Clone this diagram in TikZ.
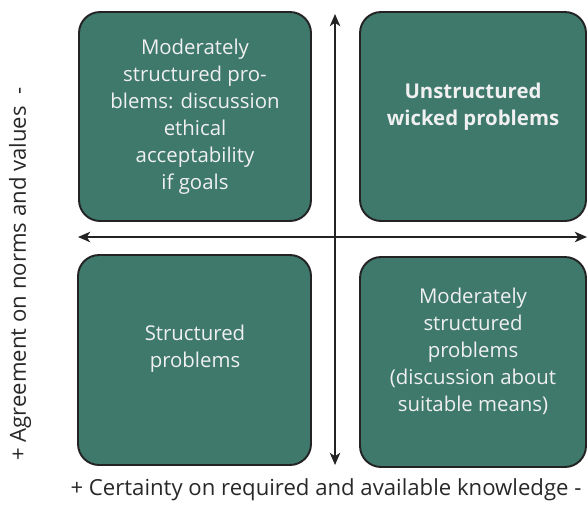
\documentclass[tikz,border=0pt]{standalone}
\usepackage{fontspec}
\setmainfont{Open Sans}
\usepackage{tikz}
\usetikzlibrary{arrows.meta}

\definecolor{boxfill}{RGB}{62,121,108}
\definecolor{boxline}{RGB}{35,35,35}
\definecolor{labelgray}{RGB}{40,40,40}
\newcommand{\quadfont}{\fontsize{11.6pt}{15.4pt}\selectfont}
\newcommand{\axisfont}{\fontsize{12.6pt}{15.4pt}\selectfont}

\begin{document}
\begin{tikzpicture}[x=0.02cm, y=-0.02cm,
    quad/.style={rectangle, rounded corners=0.42cm, draw=boxline, fill=boxfill, line width=1.1pt, inner sep=0pt},
    quadtext/.style={text=white!94!black, align=center, font=\quadfont},
    axislabel/.style={text=labelgray, font=\axisfont, inner sep=0pt},
    axis/.style={{Stealth[length=7pt,width=6pt,inset=2pt]}-{Stealth[length=7pt,width=6pt,inset=2pt]}, line width=0.85pt, draw=boxline}]

    \useasboundingbox (0,0) rectangle (587,504);

    \node[quad, minimum width=4.64cm, minimum height=4.18cm] (tl) at (195, 116.5) {};
    \node[quad, minimum width=4.52cm, minimum height=4.18cm] (tr) at (473, 116.5) {};
    \node[quad, minimum width=4.66cm, minimum height=4.20cm] (bl) at (194.5, 360) {};
    \node[quad, minimum width=4.52cm, minimum height=4.20cm] (br) at (473, 362) {};

    \node[quadtext] (tltext) at (195, 117) {Moderately\\structured pro-\\blems: discussion\\ethical\\acceptability\\if goals};
    \node[quadtext, font=\quadfont\bfseries] (trtext) at (473, 107) {Unstructured\\wicked problems};
    \node[quadtext] (bltext) at (195, 349) {Structured\\problems};
    \node[quadtext] (brtext) at (473, 351) {Moderately\\structured\\problems\\(discussion about\\suitable means)};

    \coordinate (vtop) at (335, 14);
    \coordinate (vbot) at (335, 465);
    \coordinate (hleft) at (78, 237);
    \coordinate (hright) at (587, 237);

    \draw (vtop) edge[axis] (vbot);
    \draw (hleft) edge[axis] (hright);

    \node[axislabel] (knowledge) at (326, 490) {+ Certainty on required and available knowledge -};
    \node[axislabel, rotate=90] (norms) at (20, 274) {+ Agreement on norms and values\ \ -};
  \end{tikzpicture}
\end{document}
